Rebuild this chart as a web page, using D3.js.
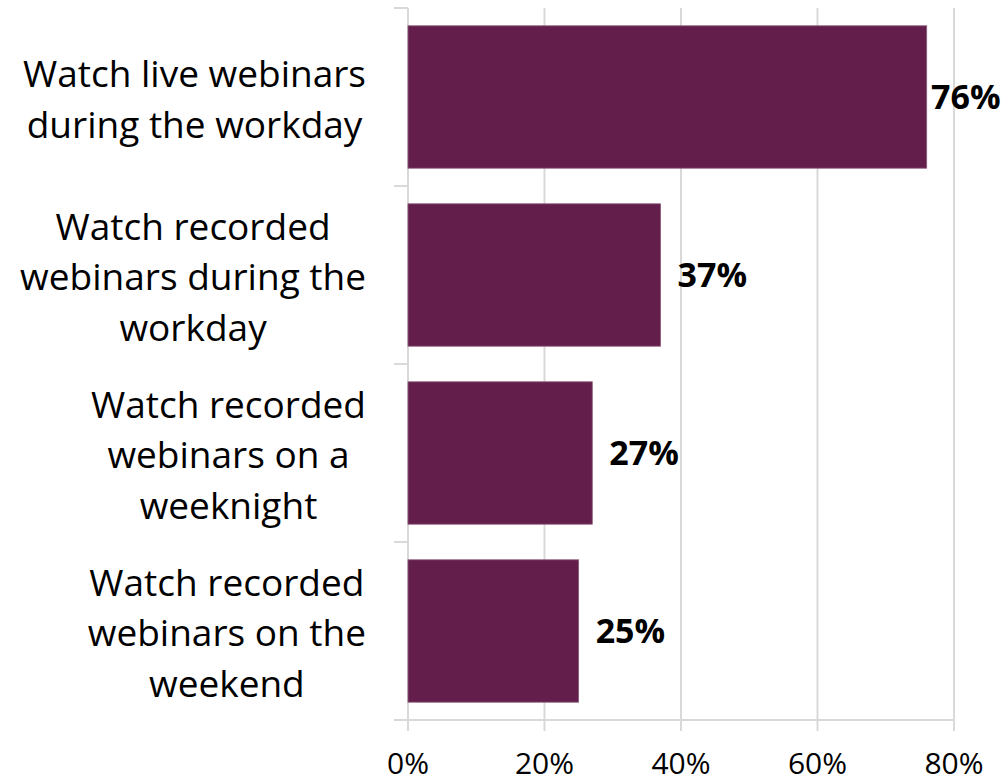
<!DOCTYPE html>
<html><head><meta charset="utf-8">
<script src="https://cdn.jsdelivr.net/npm/d3@7"></script>
<style>body{margin:0;background:#fff}svg{display:block}</style>
</head><body><svg id="c" width="1008" height="783"></svg>
<script>
const categories = [
  ["Watch live webinars","during the workday"],
  ["Watch recorded","webinars during the","workday"],
  ["Watch recorded","webinars on a","weeknight"],
  ["Watch recorded","webinars on the","weekend"]
];
const values = [76, 37, 27, 25];
const tickValues = [0, 20, 40, 60, 80];
const tickLabels = ["0%", "20%", "40%", "60%", "80%"];

(function () {
const svg = d3.select("#c");
const font = "'Open Sans', Lato, sans-serif";
const pLeft = 408, pRight = 954, pTop = 8, pBottom = 720;
const x = d3.scaleLinear().domain([0, 80]).range([pLeft, pRight]);
const ids = categories.map((d, i) => i);
const y = d3.scaleBand().domain(ids).range([pTop, pBottom]).paddingInner(0.2).paddingOuter(0.1);
const grid = "#d9d9d9";

// gridlines
svg.append("g").selectAll("line").data(tickValues).join("line")
  .attr("x1", d => x(d)).attr("x2", d => x(d))
  .attr("y1", pTop).attr("y2", pBottom + 11)
  .attr("stroke", grid).attr("stroke-width", 2);
// x axis line
svg.append("line").attr("x1", pLeft - 14).attr("x2", pRight).attr("y1", pBottom).attr("y2", pBottom)
  .attr("stroke", grid).attr("stroke-width", 2);
// y category separators
const step = y.step();
const seps = ids.map(i => y(i) - y.paddingInner() * step / 2);
svg.append("g").selectAll("line").data(seps).join("line")
  .attr("x1", pLeft - 14).attr("x2", pLeft).attr("y1", d => d).attr("y2", d => d)
  .attr("stroke", grid).attr("stroke-width", 2);

// bars
svg.append("g").selectAll("rect").data(values).join("rect")
  .attr("x", x(0)).attr("y", (d, i) => y(i))
  .attr("width", d => x(d) - x(0)).attr("height", y.bandwidth())
  .attr("fill", "#641e4b").attr("stroke", "#8a5a7a").attr("stroke-width", 0.8);

// value labels
svg.append("g").selectAll("text").data(values).join("text")
  .attr("x", d => Math.min(x(d) + 17, 931)).attr("y", (d, i) => y(i) + y.bandwidth() / 2)
  .attr("dy", "0.36em").attr("font-family", font).attr("font-weight", "bold")
  .attr("font-size", 34).attr("fill", "#000").text(d => d + "%");

// x tick labels
svg.append("g").selectAll("text").data(tickValues).join("text")
  .attr("x", d => x(d)).attr("y", 774).attr("text-anchor", "middle")
  .attr("font-family", font).attr("font-size", 30).attr("fill", "#000")
  .text((d, i) => tickLabels[i]);

// category labels
const lineH = 50.5;
categories.forEach((lines, i) => {
  const g = svg.append("g");
  const cy = y(i) + y.bandwidth() / 2 + 2;
  const t = g.append("text").attr("font-family", font).attr("font-size", 37).attr("fill", "#000")
    .attr("text-anchor", "middle");
  const n = lines.length;
  lines.forEach((l, k) => {
    t.append("tspan").attr("x", 0).attr("y", cy + (k - (n - 1) / 2) * lineH).attr("dy", "0.36em").text(l);
  });
  const w = t.node().getBBox().width;
  t.attr("transform", `translate(${366 - w / 2},0)`);
});
})();
</script></body></html>
